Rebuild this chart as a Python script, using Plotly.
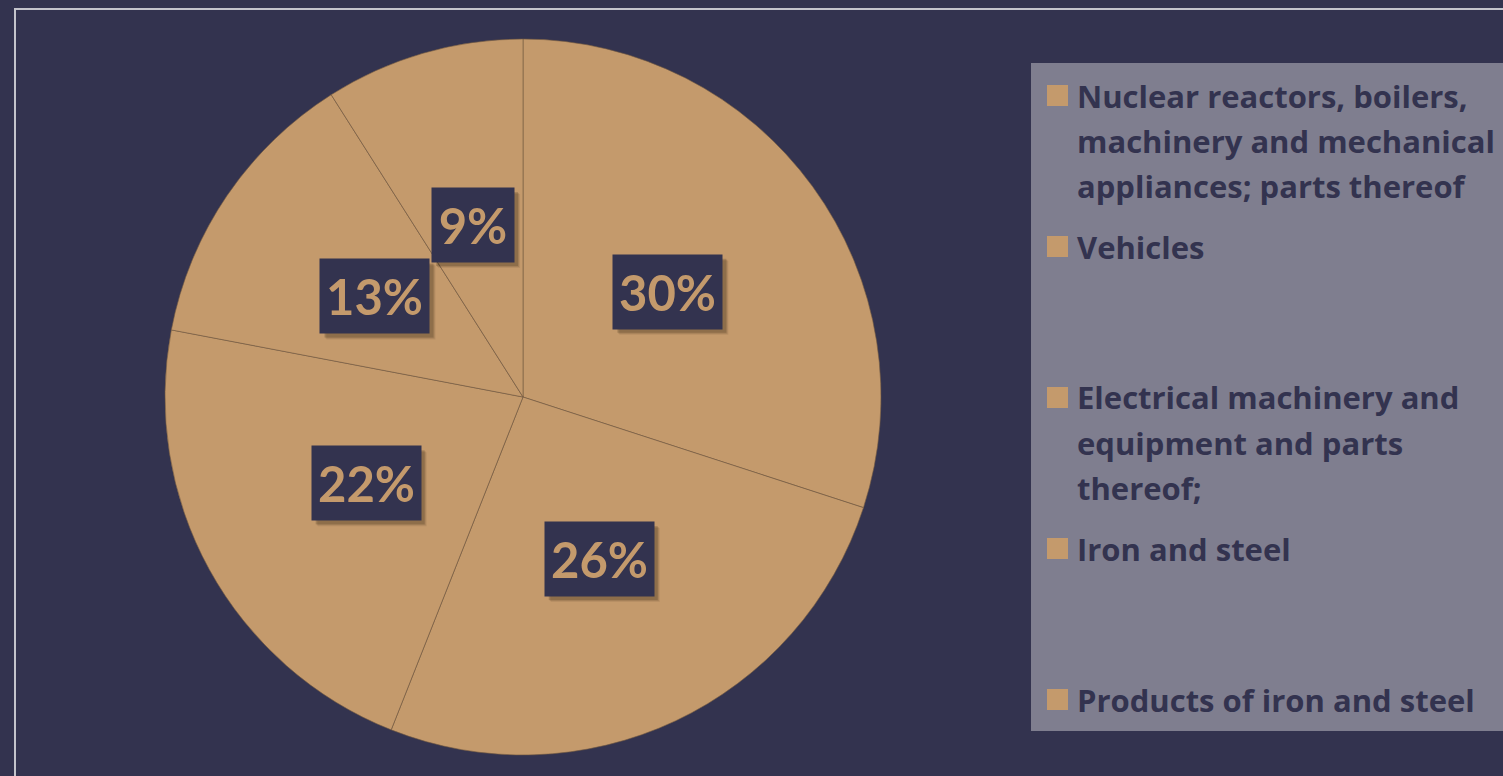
import math
import textwrap
import plotly.graph_objects as go

# ---- data ----
labels = [
    "Nuclear reactors, boilers, machinery and mechanical appliances; parts thereof",
    "Vehicles",
    "Electrical machinery and equipment and parts thereof;",
    "Iron and steel",
    "Products of iron and steel",
]
values = [30, 26, 22, 13, 9]
pct_text = ["30%", "26%", "22%", "13%", "9%"]

# ---- style / layout ----
W, H = 1503, 776
BG = "#33334F"
TAN = "#C49A6C"
LEG_BG = "#7F7E8F"
PCT_FONT = "Lato"
LEG_FONT = "Open Sans"

# pie geometry (pixels)
cx, cy, R = 523, 397, 358

dom_x = [(cx - R) / W, (cx + R) / W]
dom_y = [1 - (cy + R) / H, 1 - (cy - R) / H]

fig = go.Figure()
fig.add_trace(go.Pie(
    labels=labels,
    values=values,
    sort=False,
    direction="clockwise",
    rotation=0,
    textinfo="none",
    marker=dict(colors=[TAN] * len(values),
                line=dict(color="rgba(115,90,65,0.6)", width=1)),
    domain=dict(x=dom_x, y=dom_y),
    showlegend=False,
    hoverinfo="label+percent",
))

annotations = []
shapes = []

# frame border
shapes.append(dict(type="rect", xref="paper", yref="paper",
                   x0=15 / W, x1=1.02, y0=1 - 9 / H, y1=-0.03,
                   line=dict(color="#C4C4CC", width=2), fillcolor="rgba(0,0,0,0)",
                   layer="below"))

# percentage labels in dark boxes at half radius
total = sum(values)
cum = 0
for v, t in zip(values, pct_text):
    mid = (cum + v / 2) / total * 2 * math.pi
    cum += v
    px = cx + 0.5 * R * math.sin(mid)
    py = cy - 0.5 * R * math.cos(mid)
    bw = 82 if len(t) == 2 else 109
    bh = 74
    # soft shadow
    for k, a in ((6, 0.08), (5, 0.12), (4, 0.18)):
        shapes.append(dict(type="rect", xref="paper", yref="paper", layer="above",
                           x0=(px - bw / 2 + k) / W, x1=(px + bw / 2 + k) / W,
                           y0=1 - (py - bh / 2 + k) / H, y1=1 - (py + bh / 2 + k) / H,
                           line=dict(width=0), fillcolor="rgba(40,25,10,%.2f)" % a))
    annotations.append(dict(x=px / W, y=1 - py / H, xref="paper", yref="paper",
                            xanchor="center", yanchor="middle",
                            text="<b>%s</b>" % t, showarrow=False,
                            width=bw, height=bh, borderpad=0,
                            bgcolor=BG,
                            font=dict(family=PCT_FONT, size=49, color=TAN)))

# legend panel
shapes.append(dict(type="rect", xref="paper", yref="paper",
                   x0=1031 / W, x1=1.02, y0=1 - 63 / H, y1=1 - 731 / H,
                   line=dict(width=0), fillcolor=LEG_BG, layer="below"))

item_top = 85
item_step = 151
line_step = 45
cap = 21
for i, lab in enumerate(labels):
    lines = textwrap.wrap(lab, 26)
    top = item_top + i * item_step
    shapes.append(dict(type="rect", xref="paper", yref="paper",
                       x0=1047 / W, x1=1068 / W,
                       y0=1 - top / H, y1=1 - (top + cap) / H,
                       line=dict(width=0), fillcolor=TAN))
    for j, ln in enumerate(lines):
        ycen = top + j * line_step + cap / 2
        annotations.append(dict(x=1075 / W, y=1 - ycen / H, xref="paper", yref="paper",
                                xanchor="left", yanchor="middle",
                                text="<b>%s</b>" % ln, showarrow=False,
                                font=dict(family=LEG_FONT, size=31, color=BG)))

fig.update_layout(
    width=W, height=H,
    margin=dict(l=0, r=0, t=0, b=0),
    paper_bgcolor=BG,
    plot_bgcolor=BG,
    annotations=annotations,
    shapes=shapes,
    showlegend=False,
)

fig.write_html("out.html",
               config={"displayModeBar": False},
               post_script="document.body.style.margin='0';document.body.style.overflow='hidden';")
